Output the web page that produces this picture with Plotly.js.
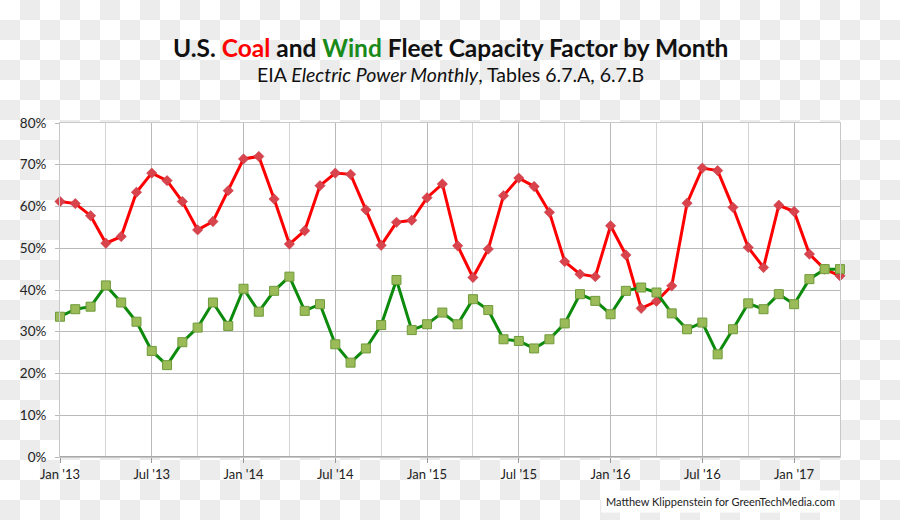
<!DOCTYPE html>
<html>
<head>
<meta charset="utf-8">
<script src="https://cdn.plot.ly/plotly-3.0.1.min.js"></script>
<style>
  html, body { margin: 0; padding: 0; }
  body {
    width: 900px; height: 520px;
    background: repeating-conic-gradient(#ececec 0% 25%, #ffffff 0% 50%) 0 0 / 40px 40px;
  }
  #chart { width: 900px; height: 520px; }
</style>
</head>
<body>
<div id="chart"></div>
<script>
const months = [
  "2013-01","2013-02","2013-03","2013-04","2013-05","2013-06","2013-07","2013-08","2013-09","2013-10","2013-11","2013-12",
  "2014-01","2014-02","2014-03","2014-04","2014-05","2014-06","2014-07","2014-08","2014-09","2014-10","2014-11","2014-12",
  "2015-01","2015-02","2015-03","2015-04","2015-05","2015-06","2015-07","2015-08","2015-09","2015-10","2015-11","2015-12",
  "2016-01","2016-02","2016-03","2016-04","2016-05","2016-06","2016-07","2016-08","2016-09","2016-10","2016-11","2016-12",
  "2017-01","2017-02","2017-03","2017-04"
];
const coal = [
  61.2,60.7,57.8,51.2,52.8,63.4,68.0,66.2,61.2,54.4,56.4,63.8,
  71.4,72.0,61.8,51.0,54.2,65.0,68.0,67.7,59.2,50.7,56.2,56.7,
  62.1,65.4,50.6,43.0,49.8,62.6,66.8,64.8,58.6,46.8,43.8,43.2,
  55.4,48.4,35.6,37.3,41.0,60.8,69.2,68.6,59.8,50.2,45.4,60.3,
  58.8,48.6,45.0,43.4
];
const wind = [
  33.6,35.4,36.0,41.1,37.0,32.4,25.4,22.0,27.5,31.0,37.0,31.4,
  40.3,34.8,39.8,43.2,35.0,36.6,27.0,22.6,26.0,31.6,42.4,30.4,
  31.8,34.6,31.8,37.8,35.2,28.2,27.8,26.0,28.2,32.0,39.0,37.4,
  34.2,39.8,40.6,39.4,34.4,30.6,32.2,24.6,30.6,36.8,35.4,39.0,
  36.6,42.6,45.0,45.0
];
const tickMonths = ["2013-01","2013-07","2014-01","2014-07","2015-01","2015-07","2016-01","2016-07","2017-01"];
const tickLabels = ["Jan '13","Jul '13","Jan '14","Jul '14","Jan '15","Jul '15","Jan '16","Jul '16","Jan '17"];
const yTicks = [0,10,20,30,40,50,60,70,80];

const xIdx = months.map((m, i) => i);
const tickIdx = tickMonths.map(m => months.indexOf(m));
const FONT = "Lato, 'Open Sans', sans-serif";

const traces = [
  {
    x: xIdx, y: coal, name: "Coal", type: "scatter", mode: "lines+markers", cliponaxis: false,
    line: { color: "#ff0000", width: 3 },
    marker: { symbol: "diamond", size: 8, color: "#d8434c", line: { color: "#c03540", width: 0.5 } },
    hovertemplate: "%{y:.1f}%<extra>Coal</extra>"
  },
  {
    x: xIdx, y: wind, name: "Wind", type: "scatter", mode: "lines+markers", cliponaxis: false,
    line: { color: "#0c8a0c", width: 3 },
    marker: { symbol: "square", size: 9, color: "#9bbb59", line: { color: "#6f9a3a", width: 1 } },
    hovertemplate: "%{y:.1f}%<extra>Wind</extra>"
  }
];

const layout = {
  width: 900, height: 520,
  margin: { l: 60, r: 60, t: 123, b: 63 },
  paper_bgcolor: "rgba(0,0,0,0)",
  plot_bgcolor: "#ffffff",
  showlegend: false,
  font: { family: FONT, color: "#222", size: 13 },
  xaxis: {
    range: [0, 51],
    tickmode: "array", tickvals: tickIdx, ticktext: tickLabels,
    ticks: "outside", ticklen: 5, tickcolor: "#999", tickwidth: 1,
    showgrid: true, gridcolor: "#b9b9b9", gridwidth: 1,
    minor: { tickmode: "linear", tick0: 0, dtick: 3, showgrid: true, gridcolor: "#d4d4d4", gridwidth: 1, ticks: "" },
    showline: true, linecolor: "#c8c8c8", linewidth: 1, mirror: true,
    zeroline: false,
    tickfont: { family: FONT, size: 13, color: "#222" }
  },
  yaxis: {
    range: [0, 80],
    tickmode: "array", tickvals: yTicks, ticktext: yTicks.map(v => v + "%"),
    ticks: "outside", ticklen: 4, tickcolor: "#b9b9b9",
    ticklabelstandoff: 6,
    showgrid: true, gridcolor: "#b9b9b9", gridwidth: 1,
    showline: true, linecolor: "#c8c8c8", linewidth: 1, mirror: true,
    zeroline: false,
    tickfont: { family: FONT, size: 13.5, color: "#222" }
  },
  shapes: [
    { type: "line", xref: "paper", yref: "y", x0: 0, x1: 1, y0: 0, y1: 0, line: { color: "#a8a8a8", width: 2 } }
  ],
  annotations: [
    {
      xref: "paper", yref: "paper", x: 0.5, y: 1, yshift: 76, xanchor: "center", yanchor: "middle",
      text: "<b>U.S. <span style='color:#ff0000'>Coal</span> and <span style='color:#1a8a1a'>Wind</span> Fleet Capacity Factor by Month</b>",
      showarrow: false, font: { family: FONT, size: 24.5, color: "#111" }
    },
    {
      xref: "paper", yref: "paper", x: 0.5, y: 1, yshift: 49, xanchor: "center", yanchor: "middle",
      text: "EIA <i>Electric Power Monthly</i>, Tables 6.7.A, 6.7.B",
      showarrow: false, font: { family: FONT, size: 19.5, color: "#111" }
    },
    {
      xref: "paper", yref: "paper", x: 1, y: 0, xshift: 0, yshift: -44, xanchor: "right", yanchor: "middle",
      text: "Matthew Klippenstein for GreenTechMedia.com",
      showarrow: false, bgcolor: "#ffffff", borderpad: 4,
      font: { family: FONT, size: 11, color: "#222" }
    }
  ]
};

Plotly.newPlot("chart", traces, layout, { displayModeBar: false, staticPlot: true });
</script>
</body>
</html>
